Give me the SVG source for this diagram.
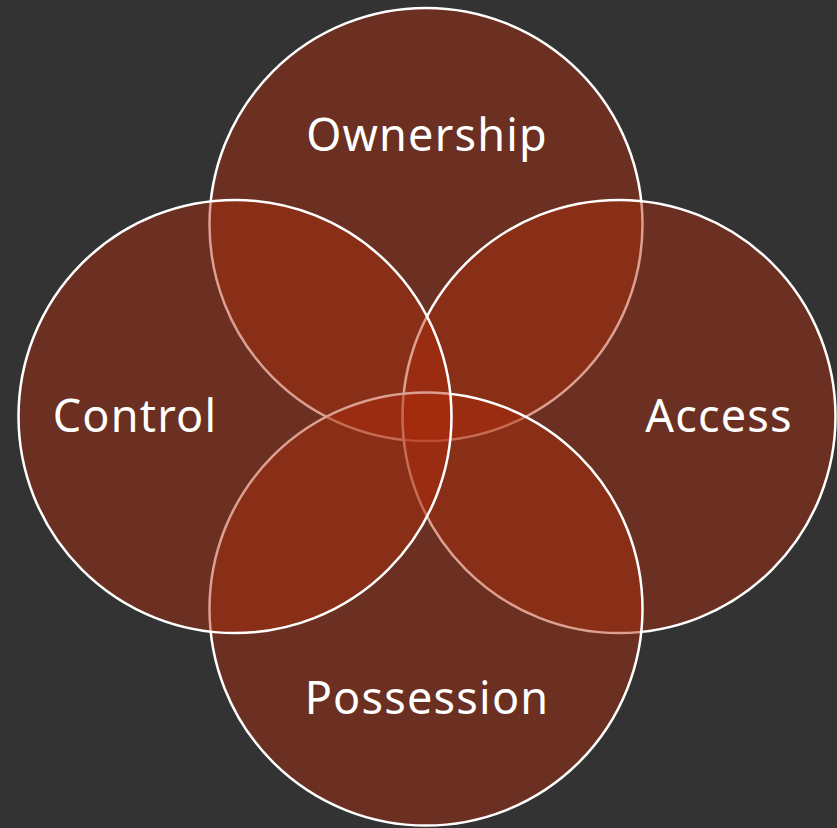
<svg xmlns="http://www.w3.org/2000/svg" width="837" height="828" viewBox="0 0 837 828">
<style>
.c{fill:rgb(176,45,12);fill-opacity:0.45;stroke:#fff;stroke-width:2.5}
.t{font-family:"Noto Sans","Open Sans",sans-serif;font-size:45px;fill:#fff;text-anchor:middle;letter-spacing:1.2px}
</style>
<rect width="837" height="828" fill="#333333"/>
<g id="ownership"><circle class="c" cx="426" cy="224.5" r="216.5"/></g>
<g id="access"><circle class="c" cx="619" cy="416.5" r="216.5"/></g>
<g id="possession"><circle class="c" cx="426" cy="609" r="216.5"/></g>
<g id="control"><circle class="c" cx="235" cy="416.5" r="216.5"/></g>
<g id="labels">
<text class="t" x="427" y="151">Ownership</text>
<text class="t" x="135" y="432">Control</text>
<text class="t" x="719" y="432">Access</text>
<text class="t" x="427" y="714">Possession</text>
</g>
<g id="connectors"/>
</svg>
